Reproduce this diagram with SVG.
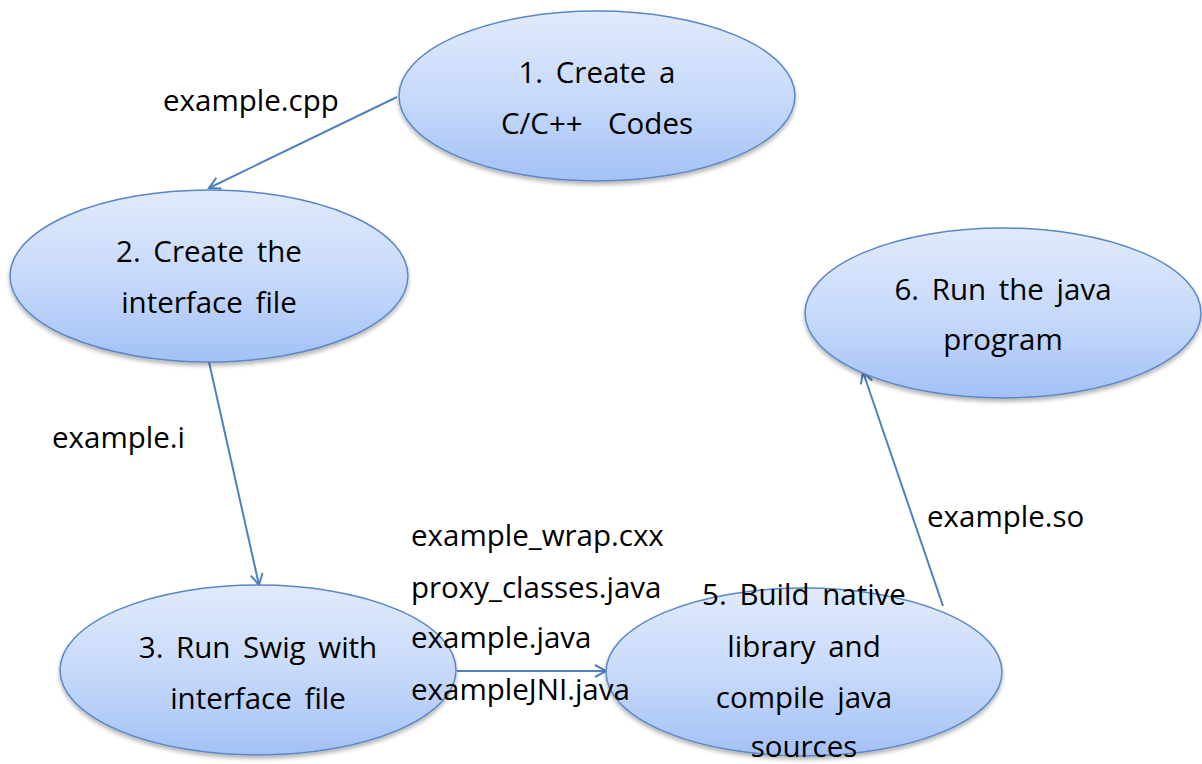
<svg xmlns="http://www.w3.org/2000/svg" width="1202" height="764" viewBox="0 0 1202 764">
<defs>
<linearGradient id="g" x1="0" y1="0" x2="0" y2="1">
<stop offset="0" stop-color="#e0eafc"/>
<stop offset="0.5" stop-color="#c8dafa"/>
<stop offset="1" stop-color="#a3c1f6"/>
</linearGradient>
<filter id="sh" x="-10%" y="-10%" width="120%" height="130%">
<feGaussianBlur in="SourceAlpha" stdDeviation="2"/>
<feOffset dy="3"/>
<feComponentTransfer><feFuncA type="linear" slope="0.3"/></feComponentTransfer>
<feMerge><feMergeNode/><feMergeNode in="SourceGraphic"/></feMerge>
</filter>
<marker id="arr" markerWidth="16" markerHeight="16" refX="13" refY="8" orient="auto" markerUnits="userSpaceOnUse">
<polyline points="2,2 13,8 2,14" fill="none" stroke="#4f81bd" stroke-width="2"/>
</marker>
</defs>
<style>
.node ellipse{fill:url(#g);stroke:#5b87c5;stroke-width:1.5;filter:url(#sh)}
text{font-family:"Open Sans","Noto Sans",sans-serif;fill:#000;font-size:29.5px}
.nt{text-anchor:middle;word-spacing:5px}
.conn line{stroke:#4f81bd;stroke-width:2;marker-end:url(#arr)}
</style>
<rect width="1202" height="764" fill="#fff"/>
<g class="conn" id="connectors">
<line x1="397" y1="97" x2="209" y2="188"/>
<line x1="209" y1="362" x2="259" y2="585"/>
<line x1="457" y1="671" x2="606" y2="671"/>
<line x1="943" y1="606" x2="863" y2="372"/>
</g>
<g class="node" id="n1">
<ellipse cx="597" cy="96" rx="198" ry="85"/>
<text class="nt" x="597" y="83">1. Create a</text>
<text class="nt" x="597" y="134" xml:space="preserve">C/C++  Codes</text>
</g>
<g class="node" id="n2">
<ellipse cx="209" cy="276" rx="199" ry="86"/>
<text class="nt" x="209" y="262">2. Create the</text>
<text class="nt" x="209" y="313">interface file</text>
</g>
<g class="node" id="n6">
<ellipse cx="1003" cy="313" rx="198" ry="85"/>
<text class="nt" x="1003" y="300">6. Run the java</text>
<text class="nt" x="1003" y="350">program</text>
</g>
<g class="node" id="n3">
<ellipse cx="258" cy="670" rx="198" ry="85"/>
<text class="nt" x="258" y="658">3. Run Swig with</text>
<text class="nt" x="258" y="709">interface file</text>
</g>
<g class="node" id="n5">
<ellipse cx="804" cy="672" rx="198" ry="84"/>
<text class="nt" x="804" y="605">5. Build native</text>
<text class="nt" x="804" y="657">library and</text>
<text class="nt" x="804" y="708">compile java</text>
<text class="nt" x="804" y="757">sources</text>
</g>
<g id="labels">
<text x="163" y="111">example.cpp</text>
<text x="52" y="448">example.i</text>
<text x="927" y="527">example.so</text>
<text x="411" y="546">example_wrap.cxx</text>
<text x="411" y="598">proxy_classes.java</text>
<text x="411" y="648">example.java</text>
<text x="411" y="700">exampleJNI.java</text>
</g>
</svg>
